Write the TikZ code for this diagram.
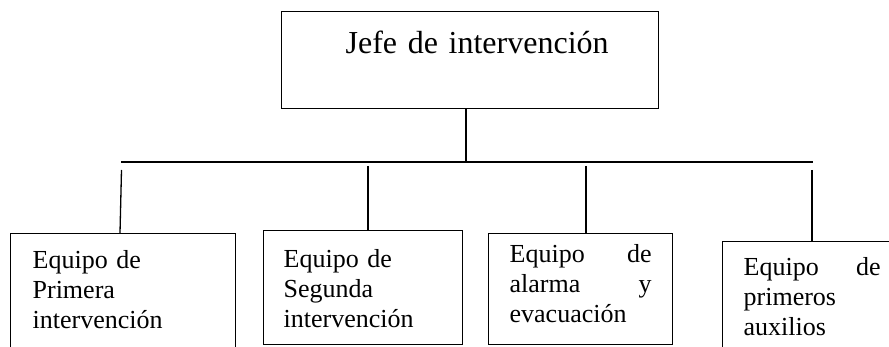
\documentclass[tikz,border=0pt]{standalone}
\usepackage{fontspec}
\setmainfont{Liberation Serif}
\usetikzlibrary{positioning}

\begin{document}
\begin{tikzpicture}[
    x=1pt, y=-1pt,
    jefebox/.style={draw, line width=1.3pt, anchor=north west, inner ysep=0pt,
                    font=\fontsize{32}{38}\selectfont},
    equipo/.style={draw, line width=1.3pt, anchor=north west, inner ysep=0pt,
                   align=left, font=\fontsize{26}{30}\selectfont},
    rama/.style={line width=1.3pt}
]
\useasboundingbox (0,0) rectangle (889,347);

% jefe
\node[jefebox, inner xsep=50pt, text width=277pt, align=right,
      text height=42pt, text depth=55pt] (jefe) at (281,11) {Jefe de intervención};

% equipos
\node[equipo, inner xsep=22pt, text width=181pt, text height=35pt, text depth=130pt]
    (e1) at (10,233) {Equipo de\\Primera\\intervención};
\node[equipo, inner xsep=20pt, text width=159pt, text height=37pt, text depth=77pt]
    (e2) at (263,230) {Equipo de\\Segunda\\intervención};
\node[equipo, inner xsep=21pt, text width=142pt, text height=29pt, text depth=82pt]
    (e3) at (488,233) {Equipo\hfill de\\alarma\hfill y\\evacuación};
\node[equipo, inner xsep=21pt, text width=137pt, text height=34pt, text depth=110pt]
    (e4) at (722,241) {Equipo\hfill de\\primeros\\auxilios};

% ramas
\coordinate (hub) at (466,162);
\coordinate (barL) at (121,162);
\coordinate (barR) at (813,162);
\draw[rama] (hub |- jefe.south) -- (hub);
\draw[rama] (barL) -- (barR);

\coordinate (d1) at (121.5,170);
\coordinate (d2) at (368,166);
\coordinate (d3) at (586,166);
\coordinate (d4) at (812,170);
\draw[rama] (d1) -- ([xshift=-1.5pt]d1 |- e1.north);
\draw[rama] (d2) -- (d2 |- e2.north);
\draw[rama] (d3) -- (d3 |- e3.north);
\draw[rama] (d4) -- (d4 |- e4.north);

\end{tikzpicture}
\end{document}
